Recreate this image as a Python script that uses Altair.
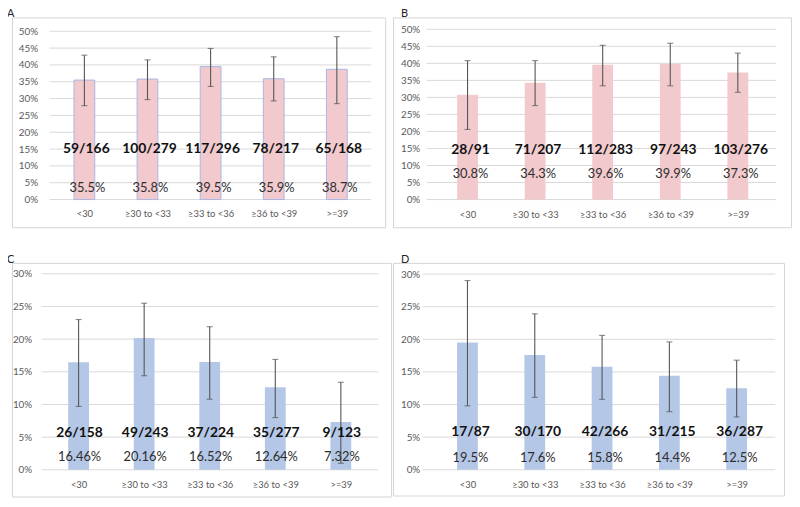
import json
import altair as alt
import pandas as pd

categories = ["<30", "≥30 to <33", "≥33 to <36", "≥36 to <39", ">=39"]

a_rate = [35.5, 35.8, 39.5, 35.9, 38.7]
a_low = [27.9, 29.7, 33.6, 29.3, 28.5]
a_high = [42.9, 41.5, 44.9, 42.4, 48.4]
a_frac = ["59/166", "100/279", "117/296", "78/217", "65/168"]
a_pct = ["35.5%", "35.8%", "39.5%", "35.9%", "38.7%"]

b_rate = [30.8, 34.3, 39.6, 39.9, 37.3]
b_low = [20.6, 27.6, 33.4, 33.4, 31.5]
b_high = [40.8, 40.8, 45.3, 45.9, 43.0]
b_frac = ["28/91", "71/207", "112/283", "97/243", "103/276"]
b_pct = ["30.8%", "34.3%", "39.6%", "39.9%", "37.3%"]

c_rate = [16.46, 20.16, 16.52, 12.64, 7.32]
c_low = [9.7, 14.4, 10.8, 8.0, 1.0]
c_high = [23.0, 25.5, 21.9, 16.9, 13.4]
c_frac = ["26/158", "49/243", "37/224", "35/277", "9/123"]
c_pct = ["16.46%", "20.16%", "16.52%", "12.64%", "7.32%"]

d_rate = [19.5, 17.6, 15.8, 14.4, 12.5]
d_low = [9.8, 11.1, 10.8, 8.9, 8.1]
d_high = [29.0, 23.9, 20.6, 19.6, 16.8]
d_frac = ["17/87", "30/170", "42/266", "31/215", "36/287"]
d_pct = ["19.5%", "17.6%", "15.8%", "14.4%", "12.5%"]

ticks_ab = [0, 5, 10, 15, 20, 25, 30, 35, 40, 45, 50]
ticks_cd = [0, 5, 10, 15, 20, 25, 30]

FONT = "Lato"
PINK = "#f2c9cc"
BLUE = "#b4c7e7"
ERR = "#555555"
GRID = "#d9d9d9"

styles = {
    "A": dict(w=377, h=212, xdom=[-1.069, 4.687], ydom=[-8.24, 54.12], gx=[38, 363],
              yoff=-29, xoff=-21, fy=15.0, py=3.5, fdx=2, pdx=3, fill=PINK, stroke="#a9b6e6", tdx=-5),
    "B": dict(w=402, h=212, xdom=[-1.029, 4.714], ydom=[-8.14, 53.49], gx=[34, 387],
              yoff=-30, xoff=-20, fy=14.5, py=7.6, fdx=3, pdx=3, fill=PINK, stroke=None, tdx=8),
    "C": dict(w=383, h=236, xdom=[-0.941, 4.691], ydom=[-4.09, 31.67], gx=[30, 370],
              yoff=-23, xoff=-19, fy=5.65, py=2.0, fdx=1, pdx=1, fill=BLUE, stroke=None, tdx=-5),
    "D": dict(w=395, h=235, xdom=[-1.032, 4.631], ydom=[-3.95, 31.71], gx=[30, 386],
              yoff=-30, xoff=-18, fy=5.8, py=1.8, fdx=3, pdx=3, fill=BLUE, stroke=None, tdx=8),
}

label_expr = json.dumps(categories, ensure_ascii=False) + "[datum.value]"


def panel(letter, rate, low, high, frac, pct, ticks):
    st = styles[letter]
    df = pd.DataFrame({"i": list(range(len(categories))), "rate": rate, "low": low,
                       "high": high, "frac": frac, "pct": pct})
    xs = alt.Scale(domain=st["xdom"], nice=False, zero=False)
    ys = alt.Scale(domain=st["ydom"], nice=False, zero=False)
    xaxis = alt.Axis(values=list(range(len(categories))), labelExpr=label_expr, grid=False,
                     domain=False, ticks=False, offset=st["xoff"], labelPadding=2,
                     labelFontSize=9.5, labelColor="#595959", labelFont=FONT, title=None)
    yaxis = alt.Axis(values=ticks, labelExpr="datum.value + '%'", grid=False, domain=False,
                     ticks=False, offset=st["yoff"], labelPadding=3, labelFontSize=10,
                     labelColor="#595959", labelFont=FONT, title=None)
    X = alt.X("i:Q", scale=xs, axis=xaxis)

    grid = alt.Chart(pd.DataFrame({"t": ticks})).mark_rule(color=GRID, strokeWidth=1).encode(
        y=alt.Y("t:Q", scale=ys, axis=yaxis),
        x=alt.value(st["gx"][0]), x2=alt.value(st["gx"][1]))
    base = alt.Chart(df)
    bar_kw = dict(size=21, fill=st["fill"])
    if st["stroke"]:
        bar_kw.update(stroke=st["stroke"], strokeWidth=1)
    bars = base.mark_bar(**bar_kw).encode(
        x=X, y=alt.Y("rate:Q", scale=ys, axis=yaxis), y2=alt.datum(0))
    err = base.mark_rule(color=ERR, strokeWidth=1.1).encode(
        x=X, y=alt.Y("low:Q", scale=ys, axis=yaxis), y2="high:Q")
    cap_lo = base.mark_tick(orient="horizontal", size=6, thickness=1.1, color=ERR).encode(
        x=X, y=alt.Y("low:Q", scale=ys, axis=yaxis))
    cap_hi = base.mark_tick(orient="horizontal", size=6, thickness=1.1, color=ERR).encode(
        x=X, y=alt.Y("high:Q", scale=ys, axis=yaxis))
    tfrac = base.mark_text(font=FONT, fontSize=14, fontWeight="bold", color="#111111",
                           baseline="middle", dx=st["fdx"]).encode(
        x=X, y=alt.Y(datum=st["fy"], scale=ys, axis=yaxis), text="frac:N")
    tpct = base.mark_text(font=FONT, fontSize=13, color="#2e2e2e",
                          baseline="middle", dx=st["pdx"]).encode(
        x=X, y=alt.Y(datum=st["py"], scale=ys, axis=yaxis), text="pct:N")
    return alt.layer(grid, bars, err, cap_lo, cap_hi, tfrac, tpct).properties(
        width=st["w"], height=st["h"],
        title=alt.Title(letter, anchor="start", dx=st["tdx"], offset=-2, fontSize=11,
                        fontWeight="normal", color="#222222", font=FONT))


pa = panel("A", a_rate, a_low, a_high, a_frac, a_pct, ticks_ab)
pb = panel("B", b_rate, b_low, b_high, b_frac, b_pct, ticks_ab)
pc = panel("C", c_rate, c_low, c_high, c_frac, c_pct, ticks_cd)
pd_ = panel("D", d_rate, d_low, d_high, d_frac, d_pct, ticks_cd)

chart = alt.concat(pa, pb, pc, pd_, columns=2, spacing={"row": 36, "column": 2},
                   bounds="flush", align="none").properties(
    padding={"left": -2, "top": -3, "right": 0, "bottom": 0}, background="white"
).configure_view(stroke="#d4d4d4", strokeWidth=1, fill="white")

chart.save("out.html", embed_options={"renderer": "svg", "actions": False})
